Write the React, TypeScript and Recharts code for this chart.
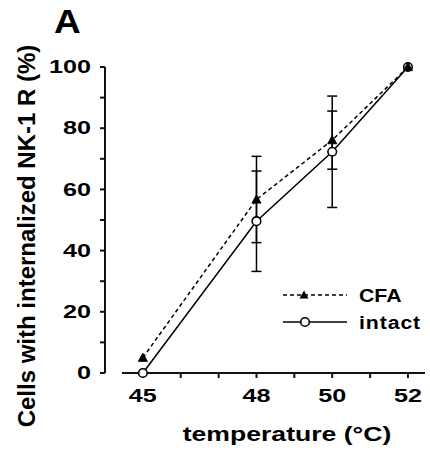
import React from 'react';
import { LineChart, Line, XAxis, YAxis, ErrorBar, Legend, ReferenceLine } from 'recharts';

const temperatures = [45, 48, 50, 52];
const cfaValues = [5, 56.7, 76.1, 100];
const cfaErrors = [0, 14.1, 9.5, 0];
const intactValues = [0, 49.6, 72.3, 100];
const intactErrors = [0, 16.4, 18.2, 0];

const xTicks = [45, 46, 47, 48, 49, 50, 51, 52];
const xLabeled = [45, 48, 50, 52];
const yTicks = [0, 10, 20, 30, 40, 50, 60, 70, 80, 90, 100];
const yLabeled = [0, 20, 40, 60, 80, 100];
const xDomain = [44, 52.45];
const xAxisSpan = [44.45, 52.45];

const panelLabel = 'A';
const xTitle = 'temperature (°C)';
const yTitle = 'Cells with internalized NK-1 R (%)';
const seriesNames = { cfa: 'CFA', intact: 'intact' };

const data = temperatures.map((t, i) => ({
  temp: t,
  cfa: cfaValues[i],
  cfaErr: cfaErrors[i],
  intact: intactValues[i],
  intactErr: intactErrors[i],
}));

const FONT = '"Liberation Sans", Arial, Helvetica, sans-serif';
const AXIS = '#111111';

const YTick = (props: any) => {
  const { x, y, payload } = props;
  if (!yLabeled.includes(payload.value)) return <g />;
  return (
    <text transform={`translate(${x},${y}) scale(1.4,1)`} textAnchor="end" dominantBaseline="central"
      fontSize={18} fontWeight="bold" fontFamily={FONT} fill="#000">
      {payload.value}
    </text>
  );
};

const XTick = (props: any) => {
  const { x, y, payload } = props;
  if (!xLabeled.includes(payload.value)) return <g />;
  return (
    <text transform={`translate(${x},${y}) scale(1.4,1)`} textAnchor="middle" dy="0.71em"
      fontSize={18} fontWeight="bold" fontFamily={FONT} fill="#000">
      {payload.value}
    </text>
  );
};

const Triangle = (props: any) => {
  const { cx, cy, index } = props;
  return <path key={index} d={`M${cx},${cy - 4.5} L${cx + 4.5},${cy + 3.6} L${cx - 4.5},${cy + 3.6} Z`} fill="#000" stroke="#000" strokeWidth={1} />;
};

const OpenCircle = (props: any) => {
  const { cx, cy, index } = props;
  return <circle key={index} cx={cx} cy={cy} r={4.3} fill="#fff" stroke="#000" strokeWidth={1.6} />;
};

const LegendContent = () => (
  <svg width={150} height={50}>
    <line x1={3} y1={12} x2={67} y2={12} stroke="#000" strokeWidth={1.5} strokeDasharray="4 3" />
    <path d="M24,7.5 L28.5,15.6 L19.5,15.6 Z" fill="#000" />
    <text transform="translate(79,12) scale(1.12,1)" dominantBaseline="central" fontSize={19} fontWeight="bold" fontFamily={FONT} fill="#000">
      {seriesNames.cfa}
    </text>
    <line x1={3} y1={39} x2={67} y2={39} stroke="#000" strokeWidth={1.5} />
    <circle cx={25} cy={39} r={4.3} fill="#fff" stroke="#000" strokeWidth={1.6} />
    <text transform="translate(79,39) scale(1.12,1)" dominantBaseline="central" fontSize={19} fontWeight="bold" fontFamily={FONT} fill="#000" letterSpacing={0.8}>
      {seriesNames.intact}
    </text>
  </svg>
);

const YTitle = (props: any) => {
  const vb = props.viewBox || { x: 45, y: 67, width: 60, height: 306 };
  const cx = vb.x - 19;
  const cy = vb.y + vb.height / 2 + 16;
  return (
    <text transform={`translate(${cx},${cy}) rotate(-90)`} textAnchor="middle" dominantBaseline="central"
      fontSize={24} fontWeight="bold" fontFamily={FONT} fill="#000">
      {yTitle}
    </text>
  );
};

const XTitle = (props: any) => {
  const vb = props.viewBox || { x: 105, y: 373, width: 320, height: 60 };
  const cx = vb.x + vb.width / 2 + 22;
  const y = vb.y + 68;
  return (
    <text transform={`translate(${cx},${y}) scale(1.33,1)`} textAnchor="middle"
      fontSize={20} fontWeight="bold" fontFamily={FONT} fill="#000">
      {xTitle}
    </text>
  );
};

export default function App() {
  return (
    <div style={{ position: 'absolute', left: 0, top: 0, width: 430, height: 456, background: '#fff' }}>
      <div style={{ width: 430, height: 456, position: 'relative' }}>
        <div
          style={{
            position: 'absolute', left: 54, top: 3, width: 40, fontFamily: FONT, fontSize: 33, fontWeight: 900,
            lineHeight: '38px', transform: 'scaleX(1.12)', transformOrigin: 'left top', color: '#000', zIndex: 3,
          }}
        >
          {panelLabel}
        </div>
        <LineChart width={430} height={456} data={data} margin={{ top: 67, right: 5, bottom: 23, left: 45 }}>
          <XAxis
            dataKey="temp"
            type="number"
            domain={xDomain}
            ticks={xTicks}
            height={60}
            tickSize={5}
            tickMargin={11}
            tick={<XTick />}
            label={<XTitle />}
            stroke={AXIS}
            axisLine={false}
            tickLine={{ stroke: AXIS, strokeWidth: 2 }}
          />
          <YAxis
            width={60}
            domain={[0, 100]}
            ticks={yTicks}
            tickSize={5}
            tickMargin={9}
            tick={<YTick />}
            label={<YTitle />}
            stroke={AXIS}
            axisLine={{ stroke: AXIS, strokeWidth: 2 }}
            tickLine={{ stroke: AXIS, strokeWidth: 2 }}
          />
          <ReferenceLine
            segment={[{ x: xAxisSpan[0], y: 0 }, { x: xAxisSpan[1], y: 0 }]}
            stroke={AXIS}
            strokeWidth={2}
            ifOverflow="visible"
          />
          <Legend
            layout="horizontal"
            verticalAlign="middle"
            align="center"
            content={<LegendContent />}
            wrapperStyle={{ position: 'absolute', left: 280, top: 283, width: 150, height: 50 }}
          />
          <Line dataKey="intact" name={seriesNames.intact} stroke="#000" strokeWidth={1.5}
            dot={<OpenCircle />} activeDot={false} isAnimationActive={false}>
            <ErrorBar dataKey="intactErr" direction="y" width={5} stroke="#000" strokeWidth={1.5} />
          </Line>
          <Line dataKey="cfa" name={seriesNames.cfa} stroke="#000" strokeWidth={1.5} strokeDasharray="4 3"
            dot={<Triangle />} activeDot={false} isAnimationActive={false}>
            <ErrorBar dataKey="cfaErr" direction="y" width={5} stroke="#000" strokeWidth={1.5} />
          </Line>
        </LineChart>
      </div>
    </div>
  );
}
